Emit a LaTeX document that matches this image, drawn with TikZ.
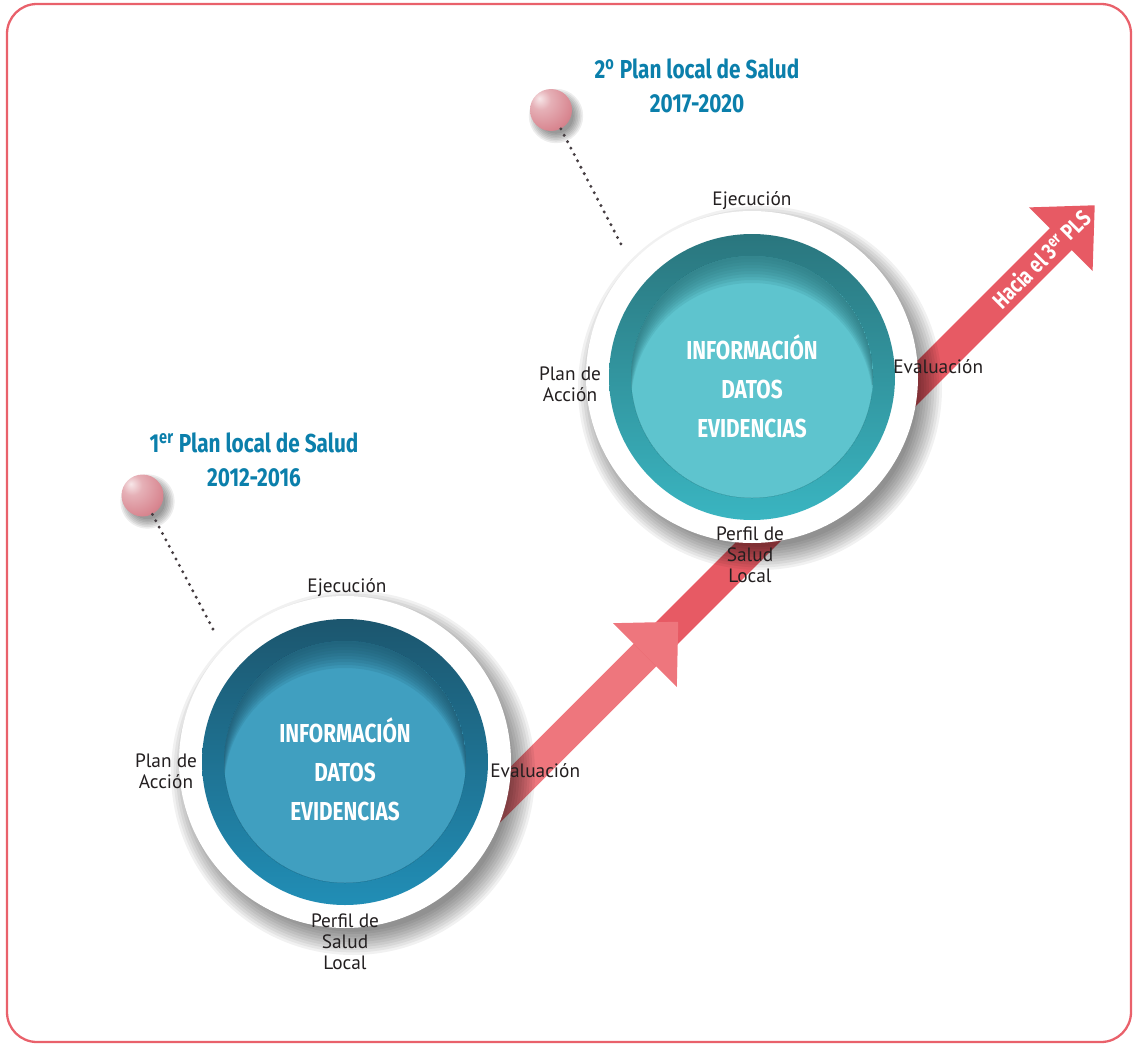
\documentclass[tikz,border=0pt]{standalone}
\usepackage{fontspec}
\setmainfont{PT Sans}
\newfontfamily\condfont[FakeStretch=0.8]{Fira Sans}
\usetikzlibrary{positioning}

\definecolor{titleblue}{RGB}{11,127,171}
\definecolor{labelgray}{RGB}{35,31,32}
\definecolor{framered}{RGB}{233,97,107}
\definecolor{arrowlight}{RGB}{238,118,125}
\definecolor{arrowdark}{RGB}{231,90,100}
\definecolor{ringtopA}{RGB}{28,86,110}
\definecolor{ringA}{RGB}{33,142,182}
\definecolor{discA}{RGB}{64,159,192}
\definecolor{ringtopB}{RGB}{42,118,126}
\definecolor{ringB}{RGB}{58,181,193}
\definecolor{discB}{RGB}{94,196,206}
\definecolor{dotgray}{RGB}{70,62,66}
\definecolor{ballpink}{RGB}{216,134,144}

\pgfdeclareradialshading{pinkball}{\pgfpoint{-14bp}{14bp}}{%
  color(0bp)=(white!80!ballpink); color(12bp)=(white!35!ballpink);
  color(34bp)=(ballpink); color(64bp)=(ballpink!65!black); color(100bp)=(ballpink!65!black)}

\tikzset{
  lbl/.style={text=labelgray, align=center, inner sep=0pt, font=\fontsize{11}{12}\selectfont},
  infotext/.style={text=white, align=center, inner sep=0pt, font=\condfont\bfseries\fontsize{14.8}{22.2}\selectfont},
  plantitle/.style={text=titleblue, align=center, inner sep=0pt, font=\condfont\bfseries\fontsize{14.8}{19.5}\selectfont},
  arrowtext/.style={text=white, inner sep=0pt, font=\condfont\bfseries\fontsize{13}{13}\selectfont},
  ballnode/.style={circle, inner sep=0pt, minimum size=0.84cm, shading=pinkball},
  dotline/.style={dotgray, line width=1.9pt, line cap=round, dash pattern=on 0pt off 4.1pt}
}

% one plan circle: #1 centre, #2 ring top, #3 ring, #4 disc
\newcommand{\plandisc}[4]{%
  \foreach \s in {1,...,10}
    \fill[black, opacity=0.055] (#1) ++(8,11) circle [radius={156+2.6*\s}];
  \fill[white] (#1) circle [radius=166];
  \shade[top color=#2, middle color=#3, bottom color=#3] (#1) circle [radius=143];
  \fill[#4] (#1) circle [radius=121];
  \begin{scope}
    \clip (#1) circle [radius=121];
    \foreach \sh in {3,6,...,27}
      \fill[#2, opacity=0.15, even odd rule] (#1) circle [radius=121] ++(0,\sh) circle [radius=121];
  \end{scope}
}

\begin{document}
\begin{tikzpicture}[x=0.02cm, y=-0.02cm]
  \useasboundingbox (0,0) rectangle (1134,1045);
  %% frame
  \draw[framered, line width=1.3pt, rounded corners=17pt] (7,4) rectangle (1131,1042);

  %% arrow
  \begin{scope}[shift={(645,655)}, rotate=45]
    \fill[arrowlight] (-276,-16) rectangle (2,16);
    \fill[arrowdark] (0,-15.5) -- (588,-15.5) -- (588,-45) -- (636,0)
      -- (588,45) -- (588,15.5) -- (0,15.5) -- cycle;
    \fill[arrowlight] (0,-45) -- (47,0) -- (0,45) -- cycle;
    \node[arrowtext, rotate=45] (hacia) at (560,0) {Hacia el 3\textsuperscript{er} PLS};
  \end{scope}

  %% circles
  \coordinate (p1) at (345,762);
  \coordinate (p2) at (752,377);
  \plandisc{p2}{ringtopB}{ringB}{discB}
  \plandisc{p1}{ringtopA}{ringA}{discA}
  \node[infotext] (info1) at (345,769) {INFORMACIÓN\\DATOS\\EVIDENCIAS};
  \node[infotext] (info2) at (752,386) {INFORMACIÓN\\DATOS\\EVIDENCIAS};

  %% labels
  \node[lbl, anchor=base] (ejec1) at (347,592) {Ejecución};
  \node[lbl] (plan1) at (166,771) {Plan de\\Acción};
  \node[lbl, anchor=base west] (eval1) at (490,777) {Evaluación};
  \node[lbl] (perf1) at (345,942) {Perfil de\\Salud\\Local};
  \node[lbl, anchor=base] (ejec2) at (752,205) {Ejecución};
  \node[lbl] (plan2) at (570,384) {Plan de\\Acción};
  \node[lbl, anchor=base west] (eval2) at (893,373) {Evaluación};
  \node[lbl] (perf2) at (750,555) {Perfil de\\Salud\\Local};

  %% titles
  \node[plantitle] (title1) at (254,460) {1\textsuperscript{er} Plan local de Salud\\2012-2016};
  \node[plantitle] (title2) at (697,86) {2\textsuperscript{o} Plan local de Salud\\2017-2020};

  %% balls
  \foreach \s in {1,...,7}
    \fill[black, opacity=0.07] (142.5,495.5) ++(5,6) circle [radius={16+1.6*\s}];
  \foreach \s in {1,...,7}
    \fill[black, opacity=0.07] (551,110) ++(5,6) circle [radius={16+1.6*\s}];
  \node[ballnode] (ball1) at (142.5,495.5) {};
  \node[ballnode] (ball2) at (551,110) {};
  \coordinate (dot1) at (214,631);
  \coordinate (dot2) at (622,246);
  \draw[dotline] (ball1) -- (dot1);
  \draw[dotline] (ball2) -- (dot2);
\end{tikzpicture}
\end{document}
